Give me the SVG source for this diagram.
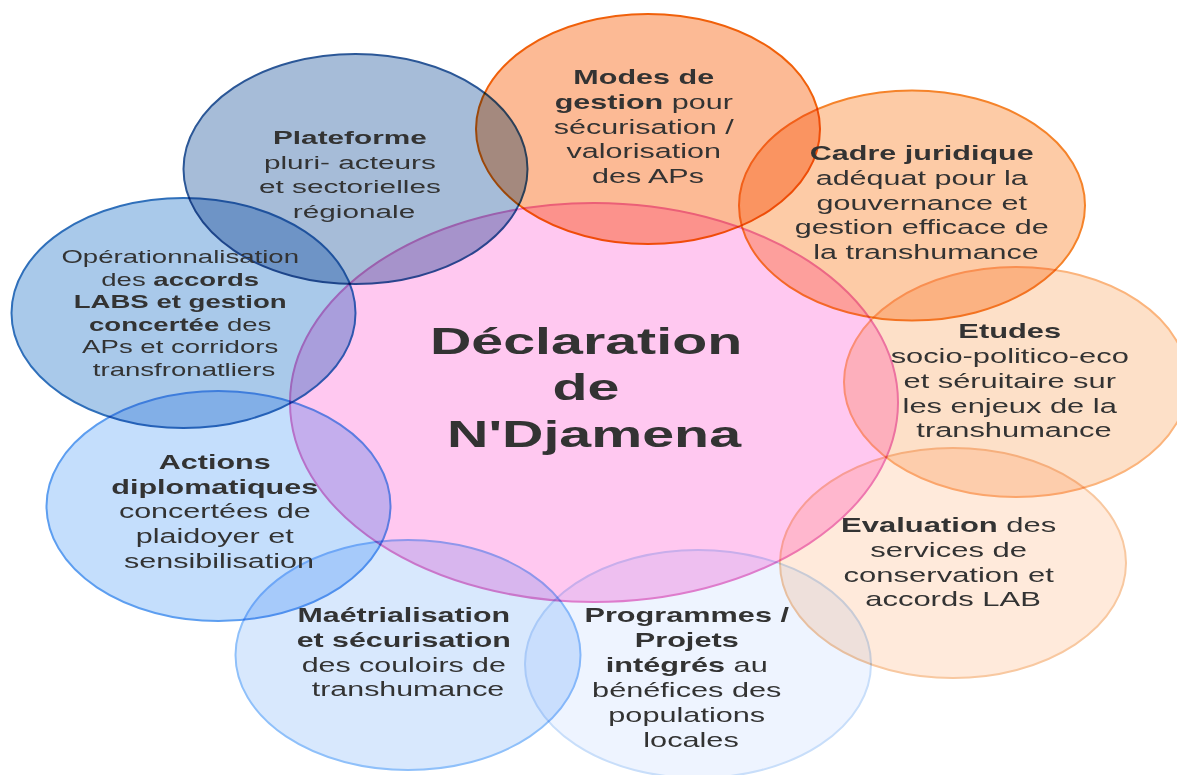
<svg xmlns="http://www.w3.org/2000/svg" width="1177" height="775" viewBox="0 0 1177 775">
<style>
  .c { mix-blend-mode: multiply; stroke-width: 2; }
  text { font-family: "Liberation Sans", Arial, sans-serif; fill: #333333; text-anchor: middle; }
  .b { font-weight: bold; }
  .t { font-weight: bold; font-size: 37px; }
</style>
<rect width="1177" height="775" fill="#ffffff"/>
<g id="connectors"></g>
<g id="center">
  <ellipse class="c" cx="594" cy="402.5" rx="304" ry="199.5" fill="#ffc8f0" stroke="#ee82cc"/>
</g>
<g id="modes">
  <ellipse class="c" cx="648" cy="129" rx="172" ry="115" fill="#fcba95" stroke="#f0600a"/>
</g>
<g id="cadre">
  <ellipse class="c" cx="912" cy="205.5" rx="173" ry="115" fill="#fdcba6" stroke="#f5832a"/>
</g>
<g id="etudes">
  <ellipse class="c" cx="1016" cy="382" rx="172" ry="115" fill="#fde0c8" stroke="#fbb47c"/>
</g>
<g id="evaluation">
  <ellipse class="c" cx="953" cy="563" rx="173" ry="115" fill="#ffeadb" stroke="#f8c8a0"/>
</g>
<g id="programmes">
  <ellipse class="c" cx="698" cy="664" rx="173" ry="114" fill="#eef4ff" stroke="#c8defa"/>
</g>
<g id="materialisation">
  <ellipse class="c" cx="408" cy="655" rx="172.5" ry="115" fill="#d8e8fd" stroke="#8fc0fa"/>
</g>
<g id="actions">
  <ellipse class="c" cx="218.5" cy="506" rx="172" ry="115" fill="#c4defc" stroke="#5d9ef0"/>
</g>
<g id="operationnalisation">
  <ellipse class="c" cx="183.5" cy="313" rx="172" ry="115" fill="#a9c9ea" stroke="#2f6fba"/>
</g>
<g id="plateforme">
  <ellipse class="c" cx="355.5" cy="169" rx="172" ry="115" fill="#a6bcd8" stroke="#2b5797"/>
</g>
<g id="labels">
  <text class="t" transform="translate(594 0) scale(1.55 1)">
    <tspan x="0" y="354">Déclaration</tspan>
    <tspan x="0" y="400">de</tspan>
    <tspan x="0" y="447">N'Djamena</tspan>
  </text>
  <text font-size="19.7" transform="translate(648 0) scale(1.55 1)">
    <tspan x="0" y="84" class="b">Modes de</tspan>
    <tspan x="0" y="109"><tspan class="b">gestion</tspan> pour</tspan>
    <tspan x="0" y="134">sécurisation /</tspan>
    <tspan x="0" y="158">valorisation</tspan>
    <tspan x="0" y="183">des APs</tspan>
  </text>
  <text font-size="19.7" transform="translate(926 0) scale(1.55 1)">
    <tspan x="0" y="160" class="b">Cadre juridique</tspan>
    <tspan x="0" y="185">adéquat pour la</tspan>
    <tspan x="0" y="210">gouvernance et</tspan>
    <tspan x="0" y="234">gestion efficace de</tspan>
    <tspan x="0" y="259">la transhumance</tspan>
  </text>
  <text font-size="19.9" transform="translate(1014 0) scale(1.55 1)">
    <tspan x="0" y="338" class="b">Etudes</tspan>
    <tspan x="0" y="363">socio-politico-eco</tspan>
    <tspan x="0" y="388">et séruitaire sur</tspan>
    <tspan x="0" y="413">les enjeux de la</tspan>
    <tspan x="0" y="437">transhumance</tspan>
  </text>
  <text font-size="20" transform="translate(953 0) scale(1.55 1)">
    <tspan x="0" y="532"><tspan class="b">Evaluation</tspan> des</tspan>
    <tspan x="0" y="557">services de</tspan>
    <tspan x="0" y="582">conservation et</tspan>
    <tspan x="0" y="606">accords LAB</tspan>
  </text>
  <text font-size="19.8" transform="translate(691 0) scale(1.55 1)">
    <tspan x="0" y="622" class="b">Programmes /</tspan>
    <tspan x="0" y="647" class="b">Projets</tspan>
    <tspan x="0" y="672"><tspan class="b">intégrés</tspan> au</tspan>
    <tspan x="0" y="697">bénéfices des</tspan>
    <tspan x="0" y="722">populations</tspan>
    <tspan x="0" y="747">locales</tspan>
  </text>
  <text font-size="19.6" transform="translate(408 0) scale(1.55 1)">
    <tspan x="0" y="622" class="b">Maétrialisation</tspan>
    <tspan x="0" y="647" class="b">et sécurisation</tspan>
    <tspan x="0" y="672">des couloirs de</tspan>
    <tspan x="0" y="696">transhumance</tspan>
  </text>
  <text font-size="19.7" transform="translate(219 0) scale(1.55 1)">
    <tspan x="0" y="469" class="b">Actions</tspan>
    <tspan x="0" y="494" class="b">diplomatiques</tspan>
    <tspan x="0" y="518.5">concertées de</tspan>
    <tspan x="0" y="543">plaidoyer et</tspan>
    <tspan x="0" y="568">sensibilisation</tspan>
  </text>
  <text font-size="17.8" transform="translate(184 0) scale(1.55 1)">
    <tspan x="0" y="263">Opérationnalisation</tspan>
    <tspan x="0" y="285.6">des <tspan class="b">accords</tspan></tspan>
    <tspan x="0" y="308.2" class="b">LABS et gestion</tspan>
    <tspan x="0" y="330.8"><tspan class="b">concertée</tspan> des</tspan>
    <tspan x="0" y="353.4">APs et corridors</tspan>
    <tspan x="0" y="376">transfronatliers</tspan>
  </text>
  <text font-size="19.2" transform="translate(354 0) scale(1.55 1)">
    <tspan x="0" y="144" class="b">Plateforme</tspan>
    <tspan x="0" y="169">pluri- acteurs</tspan>
    <tspan x="0" y="193">et sectorielles</tspan>
    <tspan x="0" y="218">régionale</tspan>
  </text>
</g>
</svg>
